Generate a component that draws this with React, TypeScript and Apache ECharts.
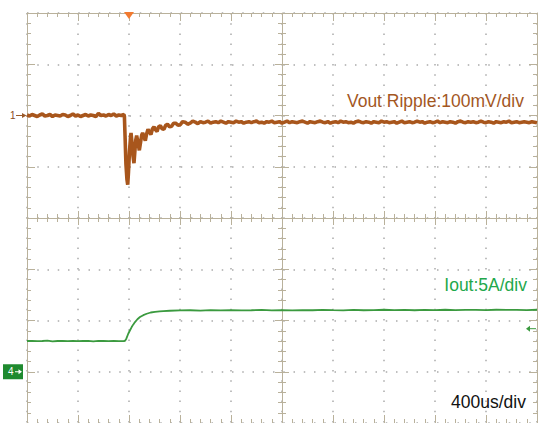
import React, { useEffect, useRef } from "react";
import * as echarts from "echarts";

// Horizontal scale: time relative to trigger (us), 400 us/div
const timeMin = -800;
const timeMax = 3200;
const timePerDiv = 400;
// Channel 1 (Vout ripple), mV relative to ch1 marker, 100 mV/div
const voutMin = -600;
const voutMax = 200;
const voutPerDiv = 100;
// Channel 4 (Iout), A relative to ch4 marker, 5 A/div
const ioutMin = -5;
const ioutMax = 35;
const ioutPerDiv = 5;

const triggerLevelA = 4.2;

// Vout before load step (sampled every 20 us from -800 us)
const voutPreStart = -800;
const voutPreStep = 20;
const voutPre = [
  1, -1, 2, 0, -2, 1, 3, -1, 0, 2,
  -2, 1, 0, -1, 2, 1, -2, 0, 3, -1,
  1, -2, 0, 2, -1, 1, 0, -2, 4, 0,
  1, -1, 2, 0, 3, -1, 1, 0, 2,
];
// Vout transient
const voutStepTime = [
  -36, -31, -24, -16, -10, -4, 4, 12, 16, 24, 32, 39, 46, 53, 60, 70, 81, 92, 100, 107,
  118, 128, 138, 149, 160, 172, 184, 196, 208, 220, 232, 246, 260, 274, 288, 302, 318, 334,
  350, 366, 384, 402, 420, 440, 460, 480, 500, 520, 540,
];
const voutStepMv = [
  -2, -40, -95, -125, -135, -110, -70, -42, -34, -55, -80, -93, -70, -48, -39, -52, -68, -50, -38, -34,
  -42, -49, -36, -27, -32, -37, -26, -22, -28, -31, -22, -20, -26, -27, -19, -17, -22, -21,
  -15, -15, -19, -18, -12, -13, -17, -15, -11, -13, -16,
];
// Vout after the transient (sampled every 20 us from 560 us)
const voutPostStart = 560;
const voutPostStep = 20;
const voutPost = [
  -12, -14, -13, -11, -15, -13, -12, -14, -11, -13,
  -15, -12, -13, -14, -11, -13, -12, -15, -13, -12,
  -14, -12, -11, -14, -13, -15, -12, -13, -11, -14,
  -13, -12, -15, -13, -11, -14, -12, -13, -14, -12,
  -11, -13, -15, -12, -13, -14, -12, -11, -13, -14,
  -12, -15, -13, -12, -14, -11, -13, -12, -14, -13,
  -15, -12, -11, -13, -14, -12, -13, -15, -12, -13,
  -14, -11, -13, -12, -14, -13, -12, -15, -13, -11,
  -14, -13, -12, -14, -13, -11, -13, -12, -15, -13,
  -12, -14, -13, -11, -14, -12, -13, -14, -12, -13,
  -15, -12, -11, -13, -14, -12, -13, -12, -14, -13,
  -11, -13, -14, -12, -13, -15, -12, -13, -14, -12,
  -13, -11, -14, -13, -12, -14, -13, -12, -13, -14,
  -12, -13, -14,
];

// Iout before step (every 40 us from -800 us)
const ioutPreStart = -800;
const ioutPreStep = 40;
const ioutPre = [
  3.0, 3.02, 2.98, 3.0, 3.03, 2.97, 3.0, 3.02, 2.99, 3.01,
  2.98, 3.0, 3.02, 2.97, 3.01, 3.0, 2.99, 3.02, 2.98, 3.0,
];
const ioutStepTime = [-31, -20, -6, 8, 21, 34, 47, 66, 86, 112, 139, 170, 204, 240, 269];
const ioutStepA = [3.02, 3.25, 3.71, 4.05, 4.36, 4.62, 4.85, 5.12, 5.34, 5.52, 5.66, 5.78, 5.84, 5.89, 5.92];
// Iout after (every 80 us from 320 us)
const ioutPostStart = 320;
const ioutPostStep = 80;
const ioutPost = [
  5.95, 5.98, 6.0, 5.97, 6.01, 5.99, 6.02, 5.98, 6.0, 6.03,
  5.99, 6.01, 5.98, 6.02, 6.0, 6.04, 6.01, 5.99, 6.03, 6.0,
  6.02, 6.05, 6.01, 6.03, 6.0, 6.04, 6.02, 6.05, 6.01, 6.03,
  6.04, 6.02, 6.05, 6.03, 6.04, 6.02, 6.05,
];

const voutLabel = "Vout Ripple:100mV/div";
const ioutLabel = "Iout:5A/div";
const timeLabel = "400us/div";

const axisColor = "#b9b19b";
const dotColor = "#ababab";
const voutColor = "#a8561c";
const voutTextColor = "#a3571f";
const ioutColor = "#3b9a3f";
const ioutTextColor = "#1fa84c";
const font = "'Liberation Sans', Arial, sans-serif";

export default function App() {
  const ref = useRef<HTMLDivElement>(null);

  useEffect(() => {
    document.body.style.margin = "0";
    if (!ref.current) return;
    const chart = echarts.init(ref.current, undefined, { renderer: "svg" });

    const voutData = [
      ...voutPre.map((v, i) => [voutPreStart + i * voutPreStep, v]),
      ...voutStepTime.map((t, i) => [t, voutStepMv[i]]),
      ...voutPost.map((v, i) => [voutPostStart + i * voutPostStep, v]),
    ];
    const ioutData = [
      ...ioutPre.map((v, i) => [ioutPreStart + i * ioutPreStep, v]),
      ...ioutStepTime.map((t, i) => [t, ioutStepA[i]]),
      ...ioutPost.map((v, i) => [ioutPostStart + i * ioutPostStep, v]),
    ];

    const xBase = (extra: any) => ({
      type: "value",
      min: timeMin,
      max: timeMax,
      interval: timePerDiv,
      axisLabel: { show: false },
      splitLine: { show: false },
      ...extra,
    });
    const yBase = (extra: any) => ({
      type: "value",
      min: voutMin,
      max: voutMax,
      interval: voutPerDiv,
      axisLabel: { show: false },
      splitLine: { show: false },
      ...extra,
    });
    const tickStyle = { color: axisColor, width: 1 };

    chart.setOption({
      animation: false,
      grid: { left: 27, top: 13, width: 510, height: 410, outerBoundsMode: "none" },
      xAxis: [
        xBase({
          position: "bottom",
          axisLine: { show: true, onZero: false, lineStyle: { color: axisColor } },
          axisTick: { show: true, inside: true, length: 8, lineStyle: tickStyle },
          minorTick: { show: true, splitNumber: 5, length: 4, lineStyle: tickStyle },
          splitLine: { show: true, lineStyle: { color: dotColor, width: 1.5, type: [1.5, 8.7] } },
        }),
        xBase({
          position: "top",
          axisLine: { show: true, onZero: false, lineStyle: { color: axisColor } },
          axisTick: { show: true, inside: true, length: 8, lineStyle: tickStyle },
          minorTick: { show: true, splitNumber: 5, length: 4, lineStyle: tickStyle },
        }),
        xBase({
          position: "bottom",
          offset: -205,
          axisLine: { show: true, onZero: false, lineStyle: { color: axisColor } },
          axisTick: { show: true, inside: false, length: 7, lineStyle: tickStyle },
          minorTick: { show: true, splitNumber: 5, length: 4, lineStyle: tickStyle },
        }),
        xBase({
          position: "bottom",
          offset: -205,
          axisLine: { show: false, onZero: false },
          axisTick: { show: true, inside: true, length: 7, lineStyle: tickStyle },
          minorTick: { show: true, splitNumber: 5, length: 4, lineStyle: tickStyle },
        }),
      ],
      yAxis: [
        yBase({
          position: "left",
          axisLine: { show: true, onZero: false, lineStyle: { color: axisColor } },
          axisTick: { show: true, inside: true, length: 8, lineStyle: tickStyle },
          minorTick: { show: true, splitNumber: 5, length: 4, lineStyle: tickStyle },
          splitLine: { show: true, lineStyle: { color: dotColor, width: 1.5, type: [1.5, 8.75] } },
        }),
        yBase({
          position: "right",
          axisLine: { show: true, onZero: false, lineStyle: { color: axisColor } },
          axisTick: { show: true, inside: true, length: 8, lineStyle: tickStyle },
          minorTick: { show: true, splitNumber: 5, length: 4, lineStyle: tickStyle },
        }),
        yBase({
          position: "left",
          offset: -255,
          axisLine: { show: true, onZero: false, lineStyle: { color: axisColor } },
          axisTick: { show: true, inside: false, length: 7, lineStyle: tickStyle },
          minorTick: { show: true, splitNumber: 5, length: 4, lineStyle: tickStyle },
        }),
        yBase({
          position: "left",
          offset: -255,
          axisLine: { show: false, onZero: false },
          axisTick: { show: true, inside: true, length: 7, lineStyle: tickStyle },
          minorTick: { show: true, splitNumber: 5, length: 4, lineStyle: tickStyle },
        }),
        {
          type: "value",
          show: false,
          min: ioutMin,
          max: ioutMax,
          interval: ioutPerDiv,
          axisLine: { onZero: false },
        },
      ],
      series: [
        {
          name: "Vout",
          type: "line",
          xAxisIndex: 0,
          yAxisIndex: 0,
          data: voutData,
          showSymbol: false,
          symbol: "none",
          lineStyle: { color: voutColor, width: 3.6 },
          z: 5,
        },
        {
          name: "Iout",
          type: "line",
          xAxisIndex: 0,
          yAxisIndex: 4,
          data: ioutData,
          showSymbol: false,
          symbol: "none",
          lineStyle: { color: ioutColor, width: 1.8 },
          z: 5,
        },
      ],
    });

    const tx = chart.convertToPixel({ xAxisIndex: 0 }, 0) as number;
    const topY = chart.convertToPixel({ yAxisIndex: 0 }, voutMax) as number;
    const y1 = chart.convertToPixel({ yAxisIndex: 0 }, 0) as number;
    const y4 = chart.convertToPixel({ yAxisIndex: 4 }, 0) as number;
    const yT = chart.convertToPixel({ yAxisIndex: 4 }, triggerLevelA) as number;

    chart.setOption({
      graphic: [
        {
          type: "polygon",
          shape: { points: [[tx - 5, topY - 1], [tx + 5, topY - 1], [tx, topY + 6]] },
          style: { fill: "#f27a30" },
          z: 10,
        },
        {
          type: "text",
          x: 10,
          y: y1,
          style: { text: "1", fill: "#8a4a1c", font: `10px ${font}`, verticalAlign: "middle" },
        },
        {
          type: "line",
          shape: { x1: 16, y1: y1, x2: 24, y2: y1 },
          style: { stroke: "#9a5a2a", lineWidth: 1 },
        },
        {
          type: "polygon",
          shape: { points: [[22, y1 - 2.5], [26.5, y1], [22, y1 + 2.5]] },
          style: { fill: "#9a5a2a" },
        },
        {
          type: "rect",
          shape: { x: 3, y: y4 - 7.5, width: 20, height: 15 },
          style: { fill: "#1f8a2f" },
        },
        {
          type: "text",
          x: 8,
          y: y4,
          style: { text: "4", fill: "#ffffff", font: `10px ${font}`, verticalAlign: "middle" },
        },
        {
          type: "line",
          shape: { x1: 15, y1: y4, x2: 20, y2: y4 },
          style: { stroke: "#ffffff", lineWidth: 1 },
        },
        {
          type: "polygon",
          shape: { points: [[18.5, y4 - 2.5], [22, y4], [18.5, y4 + 2.5]] },
          style: { fill: "#ffffff" },
        },
        {
          type: "line",
          shape: { x1: 529, y1: yT, x2: 536, y2: yT },
          style: { stroke: ioutColor, lineWidth: 1 },
        },
        {
          type: "polygon",
          shape: { points: [[526, yT], [530, yT - 3], [530, yT + 3]] },
          style: { fill: ioutColor },
        },
        {
          type: "text",
          x: 524,
          y: 101,
          style: { text: voutLabel, fill: voutTextColor, font: `17.5px ${font}`, align: "right", verticalAlign: "middle" },
          z: 20,
        },
        {
          type: "text",
          x: 527,
          y: 285,
          style: { text: ioutLabel, fill: ioutTextColor, font: `17.5px ${font}`, align: "right", verticalAlign: "middle" },
          z: 20,
        },
        {
          type: "text",
          x: 526,
          y: 402,
          style: { text: timeLabel, fill: "#111111", font: `17.5px ${font}`, align: "right", verticalAlign: "middle" },
          z: 20,
        },
      ],
    });

    return () => {
      chart.dispose();
    };
  }, []);

  return <div ref={ref} style={{ width: 538, height: 423 }} />;
}
